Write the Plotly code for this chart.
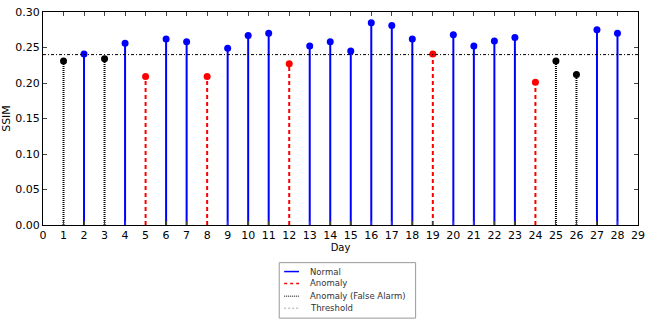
import plotly.graph_objects as go

days = list(range(1, 29))
ssim = [0.231, 0.241, 0.234, 0.256, 0.209, 0.262, 0.258, 0.209, 0.249, 0.267,
        0.270, 0.227, 0.252, 0.258, 0.245, 0.285, 0.281, 0.262, 0.241, 0.268,
        0.252, 0.259, 0.264, 0.201, 0.231, 0.212, 0.275, 0.270]
labels = ["F", "N", "F", "N", "A", "N", "N", "A", "N", "N",
          "N", "A", "N", "N", "N", "N", "N", "N", "A", "N",
          "N", "N", "N", "A", "F", "F", "N", "N"]
threshold = 0.24
x_ticks = list(range(0, 30))
y_ticks = [0.00, 0.05, 0.10, 0.15, 0.20, 0.25, 0.30]
legend_names = ["Normal", "Anomaly", "Anomaly (False Alarm)", "Threshold"]

W, H = 651, 324
L, R, T, B = 43, 6, 10, 99
PW, PH = W - L - R, H - T - B

styles = {
    "N": ("#0000ff", "solid", 2),
    "A": ("#ff0000", "4px,3px", 2),
    "F": ("#000000", "1px,1px", 2),
}

fig = go.Figure()
for key in ["N", "A", "F"]:
    color, dash, width = styles[key]
    xs, ys, mx, my = [], [], [], []
    for d, v, l in zip(days, ssim, labels):
        if l == key:
            xs += [d, d, None]
            ys += [0, v, None]
            mx.append(d)
            my.append(v)
    fig.add_trace(go.Scatter(x=xs, y=ys, mode="lines", showlegend=False,
                             line=dict(color=color, dash=dash, width=width)))
    fig.add_trace(go.Scatter(x=mx, y=my, mode="markers", showlegend=False,
                             marker=dict(color=color, size=7, line=dict(width=0))))

fig.add_trace(go.Scatter(x=[0, 29], y=[threshold, threshold], mode="lines",
                         showlegend=False,
                         line=dict(color="black", dash="3px,2px,1px,2px", width=1)))

# manual legend (pixel -> paper helpers)
def px(x):
    return (x - L) / PW

def py(y):
    return (T + PH - y) / PH

shapes = [dict(type="rect", xref="paper", yref="paper",
               x0=px(282), x1=px(420), y0=py(263), y1=py(319),
               line=dict(color="#999999", width=1), fillcolor="white")]
annotations = []
leg_styles = [("#0000ff", "solid", 1.5), ("#ff0000", "3px,3px", 1.5),
              ("#555555", "1px,1px", 1.5), ("#aaaaaa", "2px,2px", 1)]
item_y = [272, 284, 297, 309]
for name, (c, d, w), yy in zip(legend_names, leg_styles, item_y):
    shapes.append(dict(type="line", xref="paper", yref="paper",
                       x0=px(287), x1=px(302), y0=py(yy), y1=py(yy),
                       line=dict(color=c, dash=d, width=w)))
    annotations.append(dict(xref="paper", yref="paper", x=px(311), y=py(yy),
                            text=name, showarrow=False, xanchor="left",
                            yanchor="middle", font=dict(size=8.5, color="#333333")))

fig.update_layout(
    width=W, height=H,
    margin=dict(l=L, r=R, t=T, b=B),
    paper_bgcolor="white", plot_bgcolor="white",
    font=dict(family="DejaVu Sans", size=11, color="black"),
    showlegend=False,
    shapes=shapes, annotations=annotations,
)
fig.update_xaxes(range=[0, 29], tickvals=x_ticks, ticktext=[str(t) for t in x_ticks],
                 showgrid=False, zeroline=False, showline=True, mirror="ticks",
                 linecolor="black", linewidth=1, ticks="inside", ticklen=4,
                 tickfont=dict(size=11),
                 title=dict(text="Day", standoff=2, font=dict(size=10)))
fig.update_yaxes(range=[0, 0.30], tickvals=y_ticks,
                 ticktext=[f"{t:.2f}" for t in y_ticks],
                 showgrid=False, zeroline=False, showline=True, mirror="ticks",
                 linecolor="black", linewidth=1, ticks="inside", ticklen=4,
                 tickfont=dict(size=11),
                 title=dict(text="SSIM", standoff=2, font=dict(size=11)))

fig.write_html("out.html")
